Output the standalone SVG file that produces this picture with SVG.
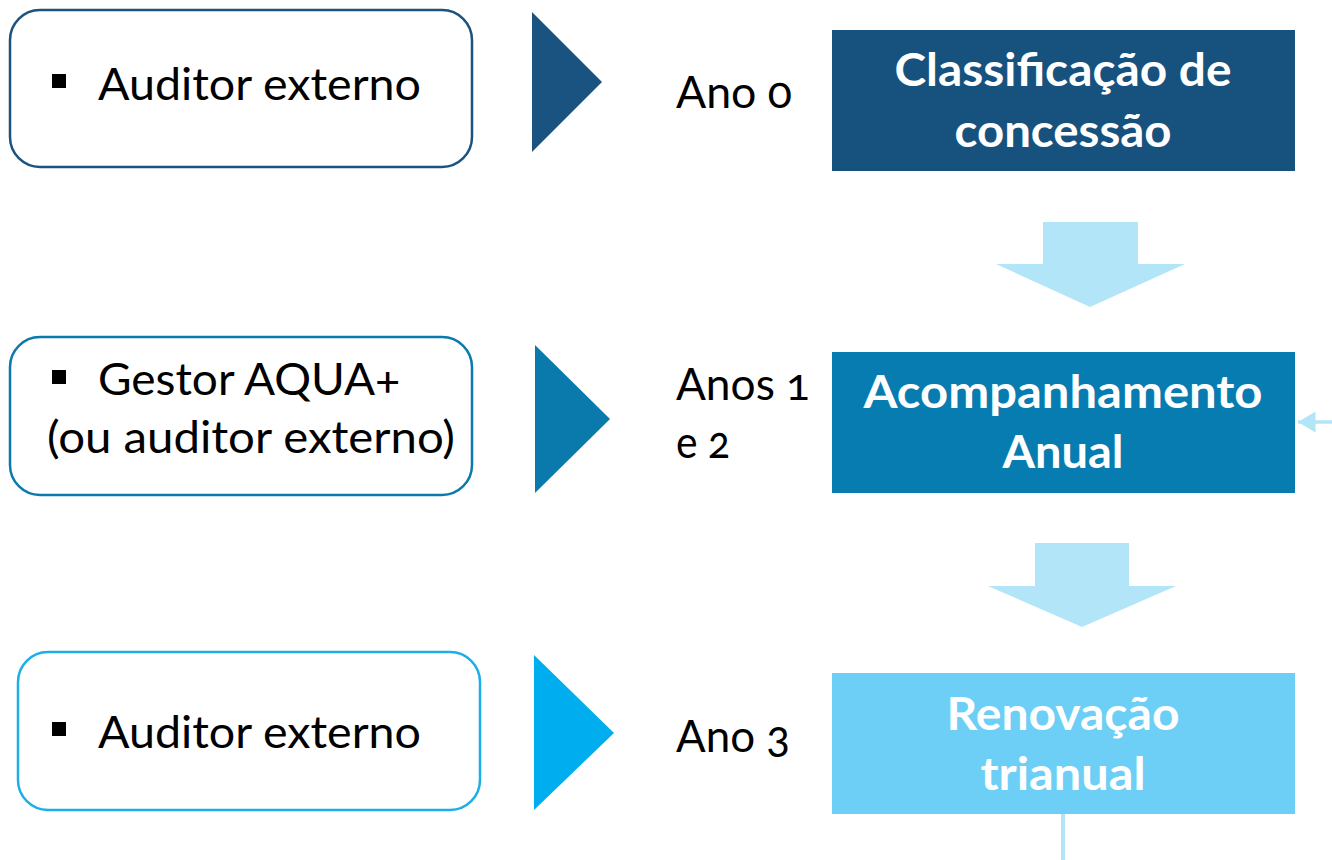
<svg xmlns="http://www.w3.org/2000/svg" width="1332" height="860" viewBox="0 0 1332 860">
<defs>
<style>
.box{fill:#ffffff;stroke-width:2.5}
.t{font-family:Lato,"Open Sans","Liberation Sans",sans-serif;font-size:45px;fill:#000000;font-variant-numeric:oldstyle-nums}
.w{font-family:Lato,"Open Sans","Liberation Sans",sans-serif;font-size:46px;font-weight:bold;fill:#ffffff;text-anchor:middle}
.down{fill:#b3e5f9}
</style>
<marker id="ah" markerWidth="6" markerHeight="6" refX="5" refY="3" orient="auto" markerUnits="strokeWidth">
<path d="M0,0 L5,3 L0,6 Z" fill="#b3e5f9"/>
</marker>
</defs>
<rect width="1332" height="860" fill="#ffffff"/>

<g id="connectors">
<path class="down" d="M1043,222 H1138 V264 H1185 L1090,307 L996,264 H1043 Z"/>
<path class="down" d="M1035,543 H1129 V586 H1176 L1082,627 L988,586 H1035 Z"/>
<line x1="1332" y1="422" x2="1298" y2="422" stroke="#b3e5f9" stroke-width="3.5" marker-end="url(#ah)"/>
<line x1="1063" y1="814" x2="1063" y2="860" stroke="#b3e5f9" stroke-width="4"/>
<polygon points="532,12 602,82 532,152" fill="#1a5280"/>
<polygon points="535,345 610,419 535,493" fill="#0a7aad"/>
<polygon points="534,655 614,733 534,810" fill="#00aeef"/>
</g>

<g id="box1">
<rect class="box" x="10" y="10" width="462" height="157" rx="30" stroke="#1a5280"/>
<rect x="52" y="74" width="14" height="14" fill="#000"/>
<text class="t" x="98" y="100" textLength="323" lengthAdjust="spacingAndGlyphs">Auditor externo</text>
</g>
<g id="box2">
<rect class="box" x="10" y="337" width="462" height="158" rx="30" stroke="#0a7aad"/>
<rect x="52" y="370" width="14" height="14" fill="#000"/>
<text class="t" x="98" y="395" textLength="302" lengthAdjust="spacingAndGlyphs">Gestor AQUA+</text>
<text class="t" x="47" y="453" textLength="408" lengthAdjust="spacingAndGlyphs">(ou auditor externo)</text>
</g>
<g id="box3">
<rect class="box" x="18" y="652" width="462" height="158" rx="30" stroke="#1caee8"/>
<rect x="52" y="722" width="14" height="14" fill="#000"/>
<text class="t" x="98" y="748" textLength="323" lengthAdjust="spacingAndGlyphs">Auditor externo</text>
</g>

<g id="label0">
<text class="t" x="676" y="108" textLength="116" lengthAdjust="spacingAndGlyphs">Ano 0</text>
</g>
<g id="label1">
<text class="t" x="676" y="400" textLength="134" lengthAdjust="spacingAndGlyphs">Anos 1</text>
<text class="t" x="676" y="458" textLength="54" lengthAdjust="spacingAndGlyphs">e 2</text>
</g>
<g id="label3">
<text class="t" x="676" y="752" textLength="114" lengthAdjust="spacingAndGlyphs">Ano 3</text>
</g>

<g id="step1">
<rect x="832" y="30" width="463" height="141" fill="#17527f"/>
<text class="w" x="1063" y="86" textLength="337" lengthAdjust="spacingAndGlyphs">Classificação de</text>
<text class="w" x="1063" y="147" textLength="217" lengthAdjust="spacingAndGlyphs">concessão</text>
</g>
<g id="step2">
<rect x="832" y="352" width="463" height="141" fill="#077cb0"/>
<text class="w" x="1063" y="408" textLength="399" lengthAdjust="spacingAndGlyphs">Acompanhamento</text>
<text class="w" x="1063" y="468" textLength="121" lengthAdjust="spacingAndGlyphs">Anual</text>
</g>
<g id="step3">
<rect x="832" y="673" width="463" height="141" fill="#6dcff6"/>
<text class="w" x="1063" y="730" textLength="233" lengthAdjust="spacingAndGlyphs">Renovação</text>
<text class="w" x="1063" y="790" textLength="165" lengthAdjust="spacingAndGlyphs">trianual</text>
</g>
</svg>
